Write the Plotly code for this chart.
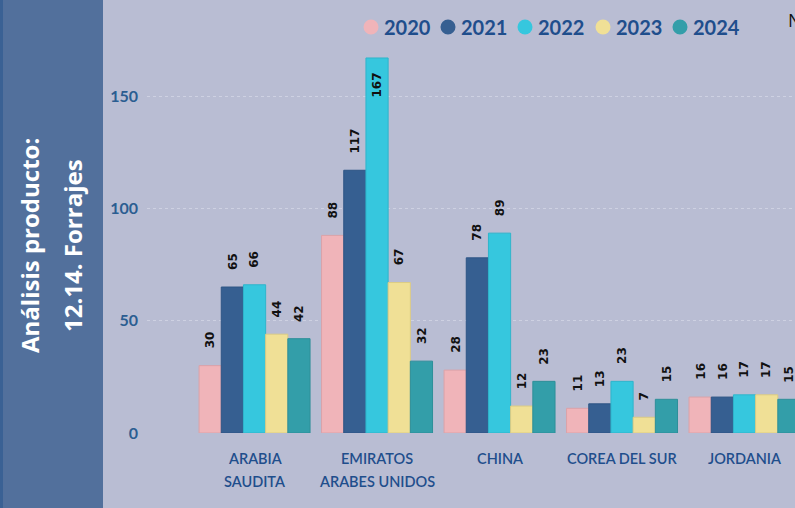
import plotly.graph_objects as go

# ---- data ----
categories = ["ARABIA\nSAUDITA", "EMIRATOS\nARABES UNIDOS", "CHINA", "COREA DEL SUR", "JORDANIA"]
years = ["2020", "2021", "2022", "2023", "2024"]
v2020 = [30, 88, 28, 11, 16]
v2021 = [65, 117, 78, 13, 16]
v2022 = [66, 167, 89, 23, 17]
v2023 = [44, 67, 12, 7, 17]
v2024 = [42, 32, 23, 15, 15]
series = [v2020, v2021, v2022, v2023, v2024]
y_ticks = [0, 50, 100, 150]
panel_lines = ["Análisis producto:", "12.14. Forrajes"]

colors = ["#f0b4b9", "#365f91", "#36c7de", "#f0e096", "#339ea9"]
edge = ["#dba2a8", "#2e5585", "#2fb5cb", "#dccc84", "#2d8f99"]

# ---- geometry ----
W, H = 795, 508
L, R, T, B = 147, 0, 40, 75
PW, PH = W - L - R, H - T - B
YMAX = 175
BARGAP = 0.094
XR = [-0.878, 4.412]

def px_x(px):
    return (px - L) / PW

def px_y(py):
    return (H - B - py) / PH

label_font = "Lato"
dark_blue = "#1f4e8c"

fig = go.Figure()
for i, (yr, vals) in enumerate(zip(years, series)):
    fig.add_trace(go.Bar(
        x=categories, y=vals, name=yr,
        marker=dict(color=colors[i], line=dict(color=edge[i], width=1)),
        showlegend=False, hoverinfo="y+name",
    ))

annotations = []
shapes = []

# value labels
n = len(series)
bw = (1 - BARGAP) / n
units_per_px = YMAX / PH
lab_font = dict(family="DejaVu Sans", size=12, color="#111111", weight="bold")
for i, vals in enumerate(series):
    for j, v in enumerate(vals):
        xpos = j + (i - (n - 1) / 2) * bw
        needed = v + (17 + 8 * len(str(v)) + 4) * units_per_px
        if needed > YMAX:
            annotations.append(dict(x=xpos, y=v, xref="x", yref="y", text=str(v),
                                    textangle=-90, showarrow=False, yanchor="top",
                                    yshift=-13, font=lab_font))
        else:
            annotations.append(dict(x=xpos, y=v, xref="x", yref="y", text=str(v),
                                    textangle=-90, showarrow=False, yanchor="bottom",
                                    yshift=15, font=lab_font))

# category labels (one annotation per line)
for j, c in enumerate(categories):
    for k, line in enumerate(c.split("\n")):
        annotations.append(dict(x=j, y=px_y(458 + 23 * k), xref="x", yref="paper", text=line,
                                showarrow=False, yanchor="middle", xanchor="center",
                                font=dict(family=label_font, size=14.5, color=dark_blue, weight=600)))

# left panel
shapes.append(dict(type="rect", xref="paper", yref="paper", x0=px_x(0), x1=px_x(103),
                   y0=px_y(H), y1=px_y(0), fillcolor="#52709c", line=dict(width=0), layer="above"))
shapes.append(dict(type="rect", xref="paper", yref="paper", x0=px_x(0), x1=px_x(3),
                   y0=px_y(H), y1=px_y(0), fillcolor="#3a6194", line=dict(width=0), layer="above"))
for k, (txt, cx) in enumerate(zip(panel_lines, [29, 72])):
    annotations.append(dict(x=px_x(cx), y=px_y(246), xref="paper", yref="paper", text=txt,
                            textangle=-90, showarrow=False, xanchor="center", yanchor="middle",
                            font=dict(family="Open Sans", size=24, color="white", weight="bold")))

# legend (circles + labels)
leg_cx = [371, 448, 525, 603, 680]
for i, yr in enumerate(years):
    cx = leg_cx[i]
    shapes.append(dict(type="circle", xref="paper", yref="paper",
                       x0=px_x(cx - 7.5), x1=px_x(cx + 7.5), y0=px_y(27 + 7.5), y1=px_y(27 - 7.5),
                       fillcolor=colors[i], line=dict(width=0)))
    annotations.append(dict(x=px_x(cx + 11), y=px_y(27), xref="paper", yref="paper", text=yr,
                            showarrow=False, xanchor="left", yanchor="middle",
                            font=dict(family=label_font, size=20, color=dark_blue, weight="bold")))

# cut-off text at right edge
annotations.append(dict(x=px_x(786), y=px_y(20), xref="paper", yref="paper", text="N",
                        showarrow=False, xanchor="left", yanchor="middle",
                        font=dict(family="Open Sans", size=18, color="#111111")))

fig.update_layout(
    width=W, height=H,
    margin=dict(l=L, r=R, t=T, b=B, pad=0),
    paper_bgcolor="#b9bdd3", plot_bgcolor="#b9bdd3",
    barmode="group", bargap=BARGAP, bargroupgap=0,
    xaxis=dict(range=XR, showticklabels=False, showgrid=False, zeroline=False, ticks=""),
    yaxis=dict(range=[0, YMAX], tickvals=y_ticks, showgrid=True, gridcolor="rgba(206,209,226,1)",
               griddash="dot", gridwidth=1, zeroline=False, ticks="", ticklabelstandoff=8,
               tickfont=dict(family=label_font, size=16, color="#2b5d91", weight="bold")),
    annotations=annotations, shapes=shapes,
    font=dict(family=label_font),
)

fig.write_html("out.html", config={"displayModeBar": False},
               post_script="document.body.style.margin='0';document.body.style.overflow='hidden';")
